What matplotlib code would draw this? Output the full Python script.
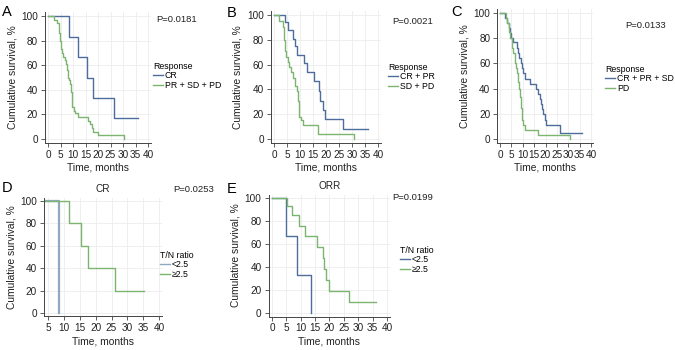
import matplotlib.pyplot as plt

plt.rcParams['font.family'] = ['Liberation Sans', 'DejaVu Sans']

BLUE = '#4e6d9c'
LIGHTBLUE = '#8ea9c2'
GREEN = '#7bb56f'

# A: CR vs PR + SD + PD
a_cr_t = [0, 8.5, 12.0, 15.5, 18.0, 26.5, 36.0]
a_cr_s = [100, 83.3, 66.7, 50, 33.3, 16.7, 16.7]
a_rest_t = [0, 2.5, 3.5, 4.3, 4.7, 5.2, 5.7, 6.1, 6.6, 7.1, 7.5, 8.1, 8.5, 8.8, 9.2, 9.5,
            9.7, 10.3, 10.8, 12.1, 16.1, 16.8, 17.5, 18.1, 19.9, 30.4]
a_rest_s = [100, 97, 94, 86, 80, 73, 70, 67, 64, 61, 56, 50, 48, 45, 38, 32,
            26, 23, 21, 18, 15, 12, 9, 6, 3, 0]

# B: CR + PR vs SD + PD
b_crpr_t = [0, 4.4, 5.3, 7.3, 8.2, 8.8, 11.4, 12.7, 15.3, 17.3, 17.8, 18.8, 19.7, 26.5, 36.2]
b_crpr_s = [100, 94, 88, 81, 75, 68, 61, 54, 47, 39, 31, 23, 16, 8, 8]
b_sdpd_t = [0, 2.1, 3.3, 4.0, 4.4, 4.8, 5.3, 5.9, 6.5, 7.3, 8.2, 8.8, 9.2, 9.5, 9.8, 10.4, 11.0, 16.9, 30.6]
b_sdpd_s = [100, 95, 90, 80, 71, 66, 62, 58, 54, 49, 43, 39, 31, 25, 18, 15, 11, 4, 0]

# C: CR + PR + SD vs PD
c_crprsd_t = [0, 2.2, 3.2, 4.1, 4.6, 5.0, 5.6, 7.4, 7.8, 8.5, 9.1, 9.6, 10.0, 11.0, 13.2,
              15.9, 16.9, 17.4, 17.8, 18.4, 19.1, 19.6, 20.1, 26.5, 36.0]
c_crprsd_s = [100, 96, 92, 88, 84, 80, 77, 72, 68, 64, 60, 56, 52, 48, 44,
              40, 36, 32, 28, 24, 20, 15, 11, 5, 5]
c_pd_t = [0, 2.6, 3.2, 3.8, 4.4, 5.1, 5.9, 6.6, 7.1, 7.4, 7.8, 8.4, 8.8, 9.3, 9.7, 10.3, 11.0, 16.9, 30.6]
c_pd_s = [100, 96, 92, 85, 80, 72, 68, 60, 56, 52, 45, 40, 33, 25, 15, 11, 7, 3.5, 0]

# D: CR, T/N ratio
d_low_t = [0, 8.5]
d_low_s = [100, 0]
d_high_t = [0, 11.6, 15.3, 17.6, 26.1, 35.3]
d_high_s = [100, 80, 60, 40, 20, 20]

# E: ORR, T/N ratio
e_low_t = [0, 5.0, 8.7, 13.6]
e_low_s = [100, 66.7, 33.3, 0]
e_high_t = [0, 5.4, 7.0, 9.5, 11.6, 15.7, 17.6, 18.2, 18.9, 20.0, 26.7, 36.3]
e_high_s = [100, 93, 85, 76, 67, 57, 48, 38, 29, 19, 10, 10]

W, H = 675, 350
fig = plt.figure(figsize=(W / 100, H / 100), dpi=100)


def axes_px(left, top, right, bottom):
    return fig.add_axes([left / W, 1 - bottom / H, (right - left) / W, (bottom - top) / H])


def panel(box, curves, xlim, xticks, letter, letter_xy, ptext, p_xy, leg_title, leg_xy, title=None):
    ax = axes_px(*box)
    for t, s, col, lab, lw in curves:
        ax.step(t, s, where='post', color=col, lw=lw, label=lab)
    ax.set_xlim(*xlim)
    ax.set_ylim(-3, 103)
    ax.set_xticks(xticks)
    ax.set_yticks(range(0, 101, 20))
    ax.grid(True, color='#ececec', lw=0.6)
    ax.set_axisbelow(True)
    for side in ['top', 'right']:
        ax.spines[side].set_visible(False)
    for side in ['left', 'bottom']:
        ax.spines[side].set_color('#444444')
        ax.spines[side].set_linewidth(0.7)
    ax.tick_params(labelsize=7.2, length=3, width=0.6, color='#444444', pad=2, labelcolor='#222222')
    ax.set_xlabel('Time, months', fontsize=7.4, labelpad=2, color='#222222')
    ax.set_ylabel('Cumulative survival, %', fontsize=7.4, labelpad=3, color='#222222')
    if title:
        ax.set_title(title, fontsize=7.2, pad=4, color='#222222')
    fig.text(letter_xy[0] / W, 1 - letter_xy[1] / H, letter, fontsize=10.5, va='center', ha='left')
    fig.text(p_xy[0] / W, 1 - p_xy[1] / H, ptext, fontsize=6.8, va='center', ha='left', color='#222222')
    leg = ax.legend(loc='upper left', bbox_to_anchor=(leg_xy[0] / W, 1 - leg_xy[1] / H),
                    bbox_transform=fig.transFigure, frameon=False, title=leg_title,
                    fontsize=6.3, title_fontsize=6.3, handlelength=1.1, handletextpad=0.25,
                    labelspacing=0.05, borderpad=0, borderaxespad=0, alignment='left')
    for h in leg.get_lines():
        h.set_linewidth(1.0)
    return ax


full = [0, 5, 10, 15, 20, 25, 30, 35, 40]

panel((45, 12.3, 150.5, 142.7),
      [(a_cr_t, a_cr_s, BLUE, 'CR', 1.0), (a_rest_t, a_rest_s, GREEN, 'PR + SD + PD', 1.0)],
      (-1.2, 41), full, 'A', (2, 12.5), 'P=0.0181', (156, 19), 'Response', (153, 62))

panel((270.9, 11.3, 380.6, 142.7),
      [(b_crpr_t, b_crpr_s, BLUE, 'CR + PR', 1.0), (b_sdpd_t, b_sdpd_s, GREEN, 'SD + PD', 1.0)],
      (-1.2, 41), full, 'B', (227, 13), 'P=0.0021', (392, 21), 'Response', (388, 63))

panel((497.3, 9.2, 593.3, 142.8),
      [(c_crprsd_t, c_crprsd_s, BLUE, 'CR + PR + SD', 1.0), (c_pd_t, c_pd_s, GREEN, 'PD', 1.0)],
      (-1.2, 41), full, 'C', (451, 12.5), 'P=0.0133', (625, 25), 'Response', (605, 65))

panel((44, 197.6, 162.3, 316.4),
      [(d_low_t, d_low_s, LIGHTBLUE, '<2.5', 1.6), (d_high_t, d_high_s, GREEN, '≥2.5', 1.0)],
      (3.7, 41), full[1:], 'D', (2, 188), 'P=0.0253', (173, 190), 'T/N ratio', (160, 251), title='CR')

panel((268.5, 194.6, 389.8, 316.5),
      [(e_low_t, e_low_s, BLUE, '<2.5', 1.0), (e_high_t, e_high_s, GREEN, '≥2.5', 1.0)],
      (-1.2, 41), full, 'E', (227, 189), 'P=0.0199', (392, 197), 'T/N ratio', (400, 246), title='ORR')

fig.savefig('out.png', dpi=100)
